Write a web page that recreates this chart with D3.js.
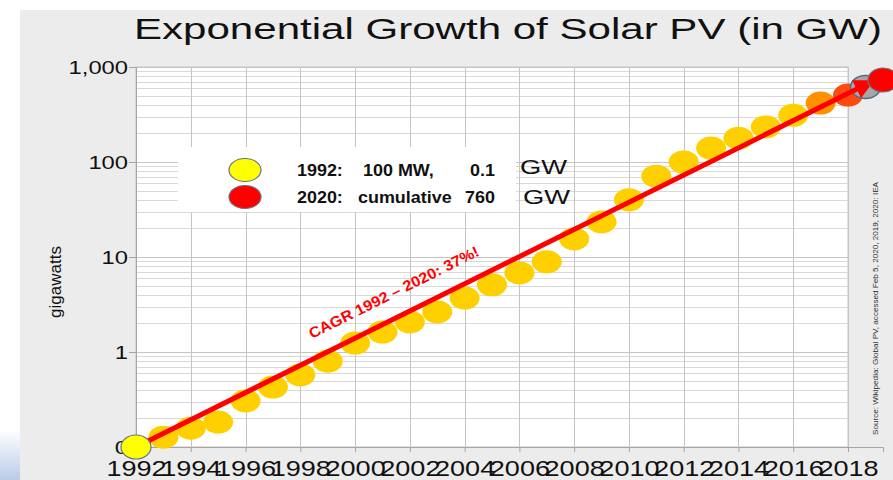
<!DOCTYPE html>
<html>
<head>
<meta charset="utf-8">
<script src="https://cdn.jsdelivr.net/npm/d3@7"></script>
<style>
  body { margin: 0; background: #fff; }
  text { font-family: "Liberation Sans", Arial, sans-serif; }
</style>
</head>
<body>
<script>
// Cumulative solar PV capacity (GW)
var years = [1992, 1993, 1994, 1995, 1996, 1997, 1998, 1999, 2000, 2001, 2002, 2003, 2004, 2005,
    2006, 2007, 2008, 2009, 2010, 2011, 2012, 2013, 2014, 2015, 2016, 2017, 2018, 2019, 2020];
var gigawatts = [0.1, 0.127, 0.158, 0.183, 0.305, 0.428, 0.573, 0.8, 1.24, 1.62, 2.07, 2.64, 3.7, 5.1,
    6.8, 8.9, 15.5, 23.4, 40, 71, 100, 140, 178, 234, 310, 417, 507, 616, 730];

// Trend (CAGR) line end points
var trendYears = [1992, 2019];
var trendValues = [0.1, 650];

var xTicks = [1992, 1994, 1996, 1998, 2000, 2002, 2004, 2006, 2008, 2010, 2012, 2014, 2016, 2018];
var yTicks = [0.1, 1, 10, 100, 1000];
var yTickLabels = ["0", "1", "10", "100", "1,000"];

var legendRows = [
    ["1992:", "100 MW,", "0.1"],
    ["2020:", "cumulative", "760"]
];

var width = 893, height = 480;
var plot = { left: 136, right: 848, top: 67, bottom: 447 };

var svg = d3.select("body").append("svg")
    .attr("width", width)
    .attr("height", height);

// stretch text horizontally (the original slide is a bit widened)
function stretch(sel, k) {
    sel.each(function () {
        var w = this.getComputedTextLength();
        d3.select(this).attr("textLength", w * k).attr("lengthAdjust", "spacingAndGlyphs");
    });
}

// slide background
var defs = svg.append("defs");
var grad = defs.append("linearGradient").attr("id", "blue").attr("x1", 0).attr("y1", 0).attr("x2", 0).attr("y2", 1);
grad.append("stop").attr("offset", "0%").attr("stop-color", "#ffffff");
grad.append("stop").attr("offset", "100%").attr("stop-color", "#b9cbea");
svg.append("rect").attr("x", 20).attr("y", 10).attr("width", width - 20).attr("height", height - 10).attr("fill", "#ececec");
svg.append("rect").attr("x", 0).attr("y", 430).attr("width", 20).attr("height", 50).attr("fill", "url(#blue)");

var xScale = d3.scaleLinear()
    .domain([1992, 2018, 2020])          // last two years are squeezed into the margin in the original
    .range([plot.left, plot.right, 883]);
var yScale = d3.scaleLog()
    .domain([0.1, 1000])
    .range([plot.bottom, plot.top]);

// plot area
svg.append("rect")
    .attr("x", plot.left).attr("y", plot.top)
    .attr("width", plot.right - plot.left).attr("height", plot.bottom - plot.top)
    .attr("fill", "#fff")
    .attr("stroke", "#c4c4c4");

// horizontal grid (log minors)
svg.append("g").selectAll("line")
    .data(yScale.ticks())
    .enter().append("line")
    .attr("x1", plot.left).attr("x2", plot.right)
    .attr("y1", function (d) { return Math.round(yScale(d)) + 0.5; })
    .attr("y2", function (d) { return Math.round(yScale(d)) + 0.5; })
    .attr("stroke", function (d) { return yTicks.indexOf(d) >= 0 ? "#c4c4c4" : "#d9d9d9"; })
    .attr("stroke-width", 1);

// vertical grid
svg.append("g").selectAll("line")
    .data(xTicks)
    .enter().append("line")
    .attr("x1", function (d) { return Math.round(xScale(d)) + 0.5; })
    .attr("x2", function (d) { return Math.round(xScale(d)) + 0.5; })
    .attr("y1", plot.top).attr("y2", plot.bottom)
    .attr("stroke", "#c4c4c4");

// x axis
var xAxis = svg.append("g")
    .attr("transform", "translate(0," + plot.bottom + ")")
    .call(d3.axisBottom(xScale).tickValues(xTicks).tickFormat(d3.format("d")).tickSizeOuter(0).tickSize(5));
xAxis.select(".domain").attr("stroke", "#a6a6a6");
xAxis.selectAll(".tick line").attr("stroke", "#a6a6a6");
xAxis.selectAll(".tick text")
    .attr("font-size", 22).attr("fill", "#111").attr("y", 13)
    .call(stretch, 1.23);

// y axis
var yAxis = svg.append("g")
    .attr("transform", "translate(" + plot.left + ",0)")
    .call(d3.axisLeft(yScale).tickValues(yTicks)
        .tickFormat(function (d) { return yTickLabels[yTicks.indexOf(d)]; })
        .tickSizeOuter(0).tickSize(7));
yAxis.select(".domain").attr("stroke", "#a6a6a6");
yAxis.selectAll(".tick line").attr("stroke", "#a6a6a6");
yAxis.selectAll(".tick text")
    .attr("font-size", 19).attr("fill", "#111").attr("x", -8)
    .call(stretch, 1.25);

svg.append("text")
    .attr("transform", "translate(61,282) rotate(-90)")
    .attr("text-anchor", "middle")
    .attr("font-size", 17)
    .attr("fill", "#111")
    .text("gigawatts");

// title
svg.append("text")
    .attr("x", 134).attr("y", 39)
    .attr("font-size", 30)
    .attr("fill", "#111")
    .attr("textLength", 748).attr("lengthAdjust", "spacingAndGlyphs")
    .text("Exponential Growth of Solar PV (in GW)");

// legend box
svg.append("rect")
    .attr("x", 178).attr("y", 147).attr("width", 338).attr("height", 65)
    .attr("fill", "#fff");

// points
function pointColor(y) {
    if (y == 2017) return "#ff9000";
    if (y == 2018) return "#ff4a12";
    if (y == 2019) return "#a6a6a6";
    if (y == 2020) return "#ff0000";
    if (y == 1992) return "#ffff00";
    return "#ffd000";
}
var data = years.map(function (y, i) { return { year: y, gw: gigawatts[i] }; });
var special = [1992, 2020];

svg.append("g").selectAll("ellipse")
    .data(data.filter(function (d) { return special.indexOf(d.year) < 0; }))
    .enter().append("ellipse")
    .attr("cx", function (d) { return xScale(d.year); })
    .attr("cy", function (d) { return yScale(d.gw); })
    .attr("rx", 15).attr("ry", 11.5)
    .attr("fill", function (d) { return pointColor(d.year); })
    .attr("stroke", function (d) { return d.year == 2019 ? "#5b6b80" : "none"; })
    .attr("stroke-width", 1.5);

// trend line
defs.append("marker")
    .attr("id", "arrow").attr("viewBox", "0 0 10 10")
    .attr("refX", 5).attr("refY", 5)
    .attr("markerWidth", 4).attr("markerHeight", 4)
    .attr("orient", "auto")
    .append("path").attr("d", "M0,0L10,5L0,10z").attr("fill", "#ff0000");

svg.append("line")
    .attr("x1", xScale(trendYears[0])).attr("y1", yScale(trendValues[0]))
    .attr("x2", xScale(trendYears[1])).attr("y2", yScale(trendValues[1]))
    .attr("stroke", "#ff0000")
    .attr("stroke-width", 5)
    .attr("marker-end", "url(#arrow)");

svg.append("g").selectAll("ellipse")
    .data(data.filter(function (d) { return special.indexOf(d.year) >= 0; }))
    .enter().append("ellipse")
    .attr("cx", function (d) { return xScale(d.year); })
    .attr("cy", function (d) { return yScale(d.gw); })
    .attr("rx", 15).attr("ry", 12)
    .attr("fill", function (d) { return pointColor(d.year); })
    .attr("stroke", "#6b7280")
    .attr("stroke-width", 1.2);

// CAGR label
svg.append("text")
    .attr("transform", "translate(312,339) rotate(-26.5)")
    .attr("font-family", "Lato, 'Open Sans', sans-serif")
    .attr("font-weight", "bold")
    .attr("font-size", 15)
    .attr("fill", "#ff0000")
    .attr("textLength", 188).attr("lengthAdjust", "spacingAndGlyphs")
    .text("CAGR 1992 \u2013 2020: 37%!");

// legend contents
var legendY = [170, 197];
var legendColor = ["#ffff00", "#ff0000"];
var legend = svg.selectAll(".legend")
    .data(legendRows)
    .enter().append("g")
    .attr("class", "legend");

legend.append("ellipse")
    .attr("cx", 245).attr("cy", function (d, i) { return legendY[i]; })
    .attr("rx", 16).attr("ry", 11.5)
    .attr("fill", function (d, i) { return legendColor[i]; })
    .attr("stroke", "#6b7280").attr("stroke-width", 1.2);

var colX = [[297, "start"], [363, "start"], [495, "end"]];
colX.forEach(function (c, j) {
    legend.append("text")
        .attr("x", function (d, i) { return i == 1 && j == 1 ? 358 : c[0]; })
        .attr("y", function (d, i) { return legendY[i] + 6; })
        .attr("text-anchor", c[1])
        .attr("font-family", "Lato, 'Open Sans', sans-serif")
        .attr("font-weight", "bold")
        .attr("font-size", 16)
        .attr("fill", "#111")
        .text(function (d) { return d[j]; })
        .call(stretch, 1.12);
});

legend.append("text")
    .attr("x", function (d, i) { return i == 0 ? 520 : 523; })
    .attr("y", function (d, i) { return legendY[i] + 4 + i * 3; })
    .attr("font-size", 20)
    .attr("fill", "#111")
    .attr("textLength", 47).attr("lengthAdjust", "spacingAndGlyphs")
    .text("GW");

// source note
svg.append("text")
    .attr("transform", "translate(878,435) rotate(-90)")
    .attr("font-size", 8)
    .attr("fill", "#333")
    .attr("textLength", 253).attr("lengthAdjust", "spacingAndGlyphs")
    .text("Source: Wikipedia: Global PV, accessed Feb 5, 2020, 2019, 2020: IEA");
</script>
</body>
</html>
